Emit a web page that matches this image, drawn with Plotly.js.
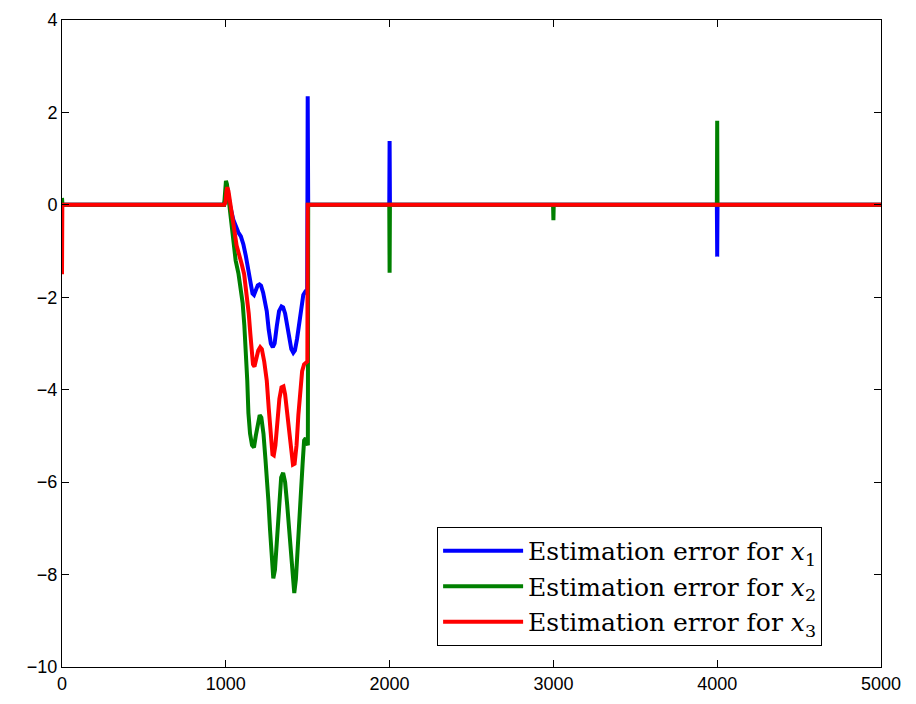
<!DOCTYPE html>
<html>
<head>
<meta charset="utf-8">
<script src="https://cdn.plot.ly/plotly-3.0.1.min.js"></script>
<style>html,body{margin:0;padding:0;background:#fff;}#chart{width:916px;height:704px;}</style>
</head>
<body>
<div id="chart"></div>
<script>
// Estimation error for x1 (blue)
const x1X = [0, 990, 1000, 1005, 1012, 1025, 1046, 1062, 1077, 1092, 1107, 1122, 1138, 1152, 1163, 1172, 1182, 1195, 1205, 1215, 1228, 1240, 1250, 1262, 1275, 1287, 1298, 1311, 1325, 1340, 1350, 1362, 1375, 1388, 1400, 1412, 1422, 1435, 1447, 1460, 1473, 1485, 1497, 1500, 1503, 1998, 2000, 2002, 3998, 4000, 4002, 5000];
const x1Y = [0, 0, 0.2, 0.4, 0.3, 0.0, -0.32, -0.5, -0.6, -0.68, -0.85, -1.1, -1.4, -1.7, -1.92, -1.95, -1.85, -1.74, -1.72, -1.75, -1.9, -2.1, -2.3, -2.7, -3.0, -3.08, -3.0, -2.63, -2.3, -2.2, -2.22, -2.35, -2.6, -2.9, -3.12, -3.2, -3.15, -2.9, -2.6, -2.2, -1.95, -1.88, -1.9, 2.35, 0, 0, 1.38, 0, 0, -1.12, 0, 0];

// Estimation error for x2 (green)
const x2X = [0, 3, 990, 996, 1001, 1007, 1015, 1026, 1046, 1060, 1077, 1090, 1103, 1113, 1123, 1131, 1138, 1148, 1160, 1172, 1183, 1195, 1207, 1217, 1230, 1242, 1250, 1260, 1270, 1280, 1290, 1300, 1315, 1327, 1338, 1350, 1362, 1375, 1388, 1400, 1410, 1418, 1428, 1443, 1455, 1469, 1478, 1488, 1498, 1501, 1503, 1998, 2000, 2002, 2998, 3000, 3002, 3998, 4000, 4002, 5000];
const x2Y = [0.15, 0, 0, 0.3, 0.52, 0.45, 0.2, -0.18, -0.9, -1.2, -1.48, -1.8, -2.13, -2.6, -3.14, -3.8, -4.5, -4.95, -5.2, -5.25, -5.0, -4.7, -4.55, -4.6, -4.95, -5.5, -5.8, -6.4, -7.03, -7.7, -8.08, -7.9, -7.03, -6.3, -5.9, -5.8, -6.0, -6.5, -7.1, -7.8, -8.3, -8.4, -8.1, -7.03, -6.2, -5.6, -5.1, -5.05, -5.18, -5.2, 0, 0, -1.47, 0, 0, -0.33, 0, 0, 1.82, 0, 0];

// Estimation error for x3 (red)
const x3X = [0, 2, 990, 998, 1004, 1009, 1016, 1025, 1036, 1050, 1066, 1080, 1097, 1112, 1128, 1140, 1150, 1158, 1166, 1175, 1185, 1198, 1210, 1220, 1235, 1250, 1262, 1275, 1285, 1293, 1303, 1315, 1327, 1340, 1352, 1362, 1372, 1385, 1398, 1410, 1420, 1432, 1443, 1455, 1466, 1478, 1490, 1498, 1500, 5000];
const x3Y = [-1.5, 0, 0, 0.05, 0.3, 0.38, 0.3, 0.05, -0.18, -0.5, -0.88, -1.1, -1.28, -1.5, -1.9, -2.35, -2.8, -3.2, -3.45, -3.5, -3.35, -3.15, -3.08, -3.12, -3.4, -3.8, -4.4, -5.1, -5.4, -5.42, -5.2, -4.7, -4.2, -3.95, -3.93, -4.1, -4.45, -4.95, -5.4, -5.62, -5.6, -5.2, -4.55, -3.95, -3.6, -3.45, -3.4, -3.39, 0, 0];

const seriesNames = ['Estimation error for <i>x</i><sub>1</sub>', 'Estimation error for <i>x</i><sub>2</sub>', 'Estimation error for <i>x</i><sub>3</sub>'];
const seriesColors = ['#0000ff', '#008000', '#ff0000'];
const xTicks = [0, 1000, 2000, 3000, 4000, 5000];
const yTicks = [-10, -8, -6, -4, -2, 0, 2, 4];

const xs = [x1X, x2X, x3X];
const ys = [x1Y, x2Y, x3Y];
const traces = xs.map((xv, i) => ({
  type: 'scatter', mode: 'lines', x: xv, y: ys[i], name: seriesNames[i],
  line: {color: seriesColors[i], width: 4}
}));

const axisCommon = {
  showline: true, linecolor: '#000', linewidth: 1, mirror: 'ticks',
  ticks: 'inside', ticklen: 7, tickcolor: '#000', tickwidth: 1,
  showgrid: false, zeroline: false,
  tickfont: {family: 'Liberation Sans, Arial, sans-serif', size: 18, color: '#000'}
};

const layout = {
  width: 916, height: 704,
  margin: {l: 62, r: 35, t: 20, b: 37},
  paper_bgcolor: '#fff', plot_bgcolor: '#fff',
  xaxis: Object.assign({}, axisCommon, {range: [0, 5000], tickvals: xTicks, ticktext: xTicks.map(String)}),
  yaxis: Object.assign({}, axisCommon, {range: [-10, 4], tickvals: yTicks}),
  showlegend: true,
  legend: {
    x: 0.458, y: 0.2164, xanchor: 'left', yanchor: 'top',
    bgcolor: '#fff', bordercolor: '#000', borderwidth: 1,
    font: {family: 'DejaVu Serif, serif', size: 25, color: '#000'},
    itemwidth: 80, tracegroupgap: 0
  }
};

Plotly.newPlot('chart', traces, layout, {displayModeBar: false, staticPlot: true});
</script>
</body>
</html>
